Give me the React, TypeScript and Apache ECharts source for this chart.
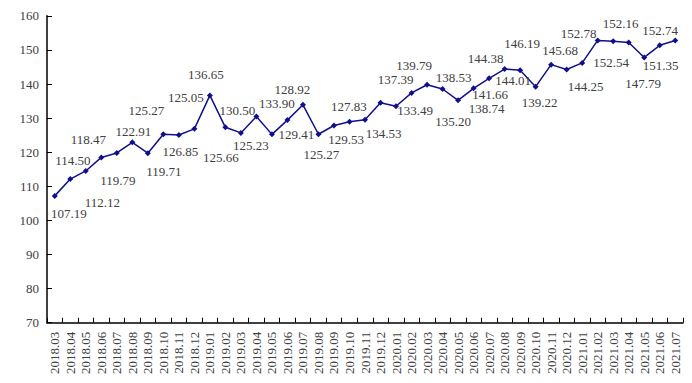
import React, { useEffect, useRef } from "react";
import * as echarts from "echarts";

const categories = [
  "2018.03", "2018.04", "2018.05", "2018.06", "2018.07", "2018.08", "2018.09", "2018.10", "2018.11", "2018.12",
  "2019.01", "2019.02", "2019.03", "2019.04", "2019.05", "2019.06", "2019.07", "2019.08", "2019.09", "2019.10", "2019.11", "2019.12",
  "2020.01", "2020.02", "2020.03", "2020.04", "2020.05", "2020.06", "2020.07", "2020.08", "2020.09", "2020.10", "2020.11", "2020.12",
  "2021.01", "2021.02", "2021.03", "2021.04", "2021.05", "2021.06", "2021.07",
];

const values = [
  107.19, 112.12, 114.5, 118.47, 119.79, 122.91, 119.71, 125.27, 125.05, 126.85,
  136.65, 127.3, 125.66, 130.5, 125.23, 129.41, 133.9, 125.27, 127.83, 128.92, 129.53, 134.53,
  133.49, 137.39, 139.79, 138.53, 135.2, 138.74, 141.66, 144.38, 144.01, 139.22, 145.68, 144.25,
  146.19, 152.78, 152.54, 152.16, 147.79, 151.35, 152.74,
];

// whether each point's value label is shown
const labelShown = values.map((_, i) => i !== 11);

// label placement offsets (dx, dy) from the point
const labelOffsets: [number, number][] = [
  [14, 18], [32, 23], [-13, -10], [-13, -18], [1, 28], [1, -11], [16, 18], [-17, -24], [7, -37], [-14, 23],
  [-4, -21], [0, 0], [-20, 25], [-19, -6], [-21, 11], [9, 14], [-26, -1], [3, 20], [15, -19], [-57, -32], [-19, 20], [3, 31],
  [19, 4], [-16, -13], [-13, -19], [11, -12], [-5, 21], [13, 20], [1, 16], [-19, -11], [-7, 10], [4, 16], [9, -14], [19, 17],
  [-60, -19], [-19, -7], [-2, 21], [-8, -19], [-1, 26], [1, 20], [-15, -10],
];

const yMin = 70;
const yMax = 160;
const yStep = 10;

const FONT = "'Liberation Serif', 'DejaVu Serif', serif";
const TEXT_COLOR = "#404040";
const LINE_COLOR = "#10108c";

export default function App() {
  const ref = useRef<HTMLDivElement>(null);

  useEffect(() => {
    if (!ref.current) return;
    const chart = echarts.init(ref.current, undefined, { renderer: "svg" });
    const data = values.map((v, i) => ({
      value: v,
      label: { show: labelShown[i] },
    }));
    chart.setOption({
      animation: false,
      backgroundColor: "#ffffff",
      grid: { left: 47, right: 9, top: 15.8, bottom: 60.3, containLabel: false },
      xAxis: {
        type: "category",
        data: categories,
        boundaryGap: true,
        axisLine: { show: true, lineStyle: { color: "#000000", width: 1.5 } },
        axisTick: { show: true, inside: true, length: 5, lineStyle: { color: "#000000", width: 1 } },
        axisLabel: {
          interval: 0,
          rotate: 90,
          margin: 9,
          color: TEXT_COLOR,
          fontFamily: FONT,
          fontSize: 13,
        },
        splitLine: { show: false },
      },
      yAxis: {
        type: "value",
        min: yMin,
        max: yMax,
        interval: yStep,
        axisLine: { show: true, lineStyle: { color: "#000000", width: 1.5 } },
        axisTick: { show: true, inside: true, length: 5, lineStyle: { color: "#000000", width: 1 } },
        axisLabel: {
          margin: 8,
          color: TEXT_COLOR,
          fontFamily: FONT,
          fontSize: 13,
        },
        splitLine: { show: false },
      },
      series: [
        {
          type: "line",
          data,
          symbol: "diamond",
          symbolSize: 6,
          itemStyle: { color: LINE_COLOR },
          lineStyle: { color: LINE_COLOR, width: 1.5 },
          label: {
            show: true,
            position: "inside",
            align: "center",
            verticalAlign: "middle",
            color: TEXT_COLOR,
            fontFamily: FONT,
            fontSize: 13,
            formatter: (p: any) => Number(p.value).toFixed(2),
          },
          labelLayout: (p: any) => {
            const o = labelOffsets[p.dataIndex] || [0, 0];
            return { dx: o[0], dy: o[1], hideOverlap: false };
          },
        },
      ],
    });
    return () => chart.dispose();
  }, []);

  return (
    <div
      ref={ref}
      style={{ position: "fixed", left: 0, top: 0, width: 692, height: 383, background: "#fff" }}
    />
  );
}
